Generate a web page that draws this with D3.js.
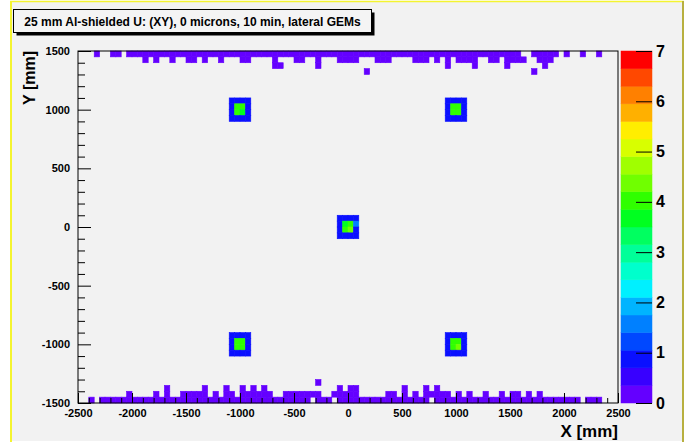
<!DOCTYPE html>
<html>
<head>
<meta charset="utf-8">
<script src="https://cdn.jsdelivr.net/npm/d3@7"></script>
<style>
  html, body { margin: 0; padding: 0; background: #ffffff; }
  text { font-family: "Liberation Sans", Arial, Helvetica, sans-serif; font-weight: bold; fill: #000; }
</style>
</head>
<body>
<svg id="chart" width="686" height="443"></svg>
<script>
// ---- histogram contents (bin low edges in mm, 50 mm bins) ----
const binWidth = 50;

// hits along the upper edge of the detector plane, one array per y-bin row
const upperRow1450 = [-2350, -2200, -2150,
  -2050, -2000, -1950, -1900, -1850, -1800, -1750, -1700, -1650, -1600,
  -1550, -1500, -1450, -1400, -1350, -1300, -1250, -1200, -1150, -1100,
  -1050, -1000, -950, -900, -850, -800, -750, -700, -650, -600,
  -550, -500, -450, -400, -350, -300, -250, -200, -150, -100,
  -50, 0, 50, 100, 150, 200, 250, 300, 350, 400,
  450, 500, 550, 600, 650, 700, 750, 800, 850, 900,
  950, 1000, 1050, 1100, 1150, 1200, 1250, 1300, 1350, 1400,
  1450, 1500, 1550,
  1700, 1750, 1800, 1850, 1900,
  2000, 2150, 2300];
const upperRow1400 = [-1900, -1800, -1650, -1500, -1450, -1350, -1200, -1000, -950,
  -700, -500, -450, -300, -100, -50, 0, 50, 250, 300, 350, 600, 650, 700, 800, 900,
  1000, 1050, 1100, 1150, 1300, 1350, 1450, 1500, 1550, 1600, 1750, 1800, 1850];
const upperRow1350 = [-700, -650, -300, 900, 1150, 1450, 1800];
const upperRow1300 = [150, 1700];

// hits along the lower edge
const lowerRowM1500 = [-2400,
  -2300, -2250, -2200, -2150, -2100, -2050, -2000, -1950, -1900, -1850,
  -1800, -1750, -1700, -1650, -1600, -1550, -1500, -1450, -1400, -1350,
  -1300, -1250, -1200, -1150, -1100, -1050, -1000, -950, -900, -850,
  -800, -750, -700, -650, -600, -550, -500, -450, -400,
  -300, -250, -200,
  -100, -50, 0, 50, 100, 150, 200, 250, 300, 350, 400, 450, 500, 550, 600, 650, 700,
  800, 850, 900, 950, 1000, 1050, 1100, 1150, 1200, 1250, 1300, 1350, 1400,
  1450, 1500, 1550, 1600, 1650, 1700, 1750, 1800, 1850, 1900, 1950, 2000, 2050, 2100,
  2200, 2250, 2300];
const lowerRowM1450 = [-2050, -1800, -1700, -1550, -1500, -1450, -1400, -1350, -1250,
  -1150, -1100, -1000, -950, -900, -850, -800, -750, -600, -550, -500, -450, -400,
  -350, -300, -150, -100, -50, 0, 50, 350, 400, 500, 600, 700, 750, 800, 850, 900,
  1000, 1100, 1250, 1400, 1500, 1550, 1650, 1750];
const lowerRowM1400 = [-1700, -1350, -1150, -1000, -900, -800, -100, 0, 50, 500, 700, 800];
const lowerRowM1350 = [-300];
const edgeHitWeight = 0.3;

// the five source spots: centres and 4x4 bin contents (rows top to bottom)
const spotCentreX = [-1000, 1000, 0, -1000, 1000];
const spotCentreY = [1000, 1000, 0, -1000, -1000];
const spotCounts = [
  [[0.9, 0.9, 0.9, 0.9], [0.9, 4.0, 3.9, 0.9], [0.9, 4.0, 3.8, 0.9], [0.9, 0.9, 0.9, 0.9]],
  [[0.9, 0.9, 0.9, 0.9], [0.9, 3.9, 4.0, 0.9], [0.9, 3.9, 4.1, 0.9], [0.9, 0.9, 0.9, 0.9]],
  [[0.9, 0.9, 0.9, 0.9], [0.8, 3.7, 3.9, 1.4], [0.8, 3.9, 4.4, 0.9], [0.8, 0.9, 0.9, 0.9]],
  [[0.9, 0.9, 0.9, 0.9], [0.9, 4.0, 3.9, 0.9], [0.9, 3.9, 4.0, 0.9], [0.9, 0.9, 0.9, 0.9]],
  [[0.9, 0.9, 0.9, 0.9], [0.9, 3.9, 4.0, 0.9], [0.9, 4.0, 4.2, 0.9], [0.9, 0.9, 0.9, 0.9]]
];

// axes and colour scale
const xTicks = [-2500, -2000, -1500, -1000, -500, 0, 500, 1000, 1500, 2000, 2500];
const yTicks = [-1500, -1000, -500, 0, 500, 1000, 1500];
const zTicks = [0, 1, 2, 3, 4, 5, 6, 7];
const zMax = 7;
const paletteColors = ["#6400ff", "#3800ff", "#0a10ff", "#0048ff", "#0080ff", "#00b4ff",
  "#00f0ff", "#00ffcc", "#00ff99", "#00ff60", "#00ff20", "#30ff00", "#70ff00", "#a0ff00",
  "#d8ff00", "#ffee00", "#ffb000", "#ff8000", "#ff4800", "#ff0000"];

const titleText = "25 mm Al-shielded U: (XY), 0 microns, 10 min, lateral GEMs";

// ---- assemble the bin list ----
const cells = [];
[[upperRow1450, 1450], [upperRow1400, 1400], [upperRow1350, 1350], [upperRow1300, 1300],
 [lowerRowM1500, -1500], [lowerRowM1450, -1450], [lowerRowM1400, -1400], [lowerRowM1350, -1350]]
  .forEach(([xs, y0]) => xs.forEach(x0 => cells.push({ x0, y0, v: edgeHitWeight })));
spotCounts.forEach((grid, s) => {
  grid.forEach((row, r) => row.forEach((v, c) => {
    cells.push({
      x0: spotCentreX[s] - 2 * binWidth + c * binWidth,
      y0: spotCentreY[s] + (1 - r) * binWidth,
      v
    });
  }));
});

// ---- drawing ----
const svg = d3.select("#chart");
const frame = { left: 78, right: 618, top: 51, bottom: 403 };
const x = d3.scaleLinear().domain([-2500, 2500]).range([frame.left, frame.right]);
const y = d3.scaleLinear().domain([-1500, 1500]).range([frame.bottom, frame.top]);
const colour = d3.scaleQuantize().domain([0, zMax]).range(paletteColors);
const plainInt = d => String(d);   // ASCII hyphen for negatives

// canvas
svg.append("rect").attr("x", 11).attr("y", 2).attr("width", 672).attr("height", 439).attr("fill", "#f2f2f2");
svg.append("line").attr("x1", 11).attr("x2", 11).attr("y1", 1).attr("y2", 442).attr("stroke", "#f4f430").attr("stroke-width", 2);
svg.append("line").attr("x1", 10).attr("x2", 684).attr("y1", 1.5).attr("y2", 1.5).attr("stroke", "#f4f430").attr("stroke-width", 1.5);
svg.append("line").attr("x1", 683).attr("x2", 683).attr("y1", 1).attr("y2", 442).attr("stroke", "#b8b040").attr("stroke-width", 2);

// histogram cells
svg.append("g").selectAll("rect").data(cells).join("rect")
  .attr("x", d => x(d.x0))
  .attr("y", d => y(d.y0 + binWidth))
  .attr("width", d => x(d.x0 + binWidth) - x(d.x0))
  .attr("height", d => y(d.y0) - y(d.y0 + binWidth))
  .attr("fill", d => colour(d.v))
  .attr("stroke", d => colour(d.v))
  .attr("stroke-width", 0.6);

// frame
svg.append("rect")
  .attr("x", frame.left).attr("y", frame.top)
  .attr("width", frame.right - frame.left).attr("height", frame.bottom - frame.top)
  .attr("fill", "none").attr("stroke", "#000").attr("stroke-width", 1);

// x axis: major ticks with labels, minor ticks every 100 mm, all pointing inward
const xMinor = d3.range(-2500, 2501, 100).filter(v => !xTicks.includes(v));
const xAxis = svg.append("g").attr("transform", `translate(0,${frame.bottom})`)
  .call(d3.axisBottom(x).tickValues(xTicks).tickSizeInner(-10).tickSizeOuter(0).tickPadding(6)
    .tickFormat(plainInt));
xAxis.select(".domain").remove();
xAxis.selectAll("text").style("font-size", "11px");
const xAxisMinor = svg.append("g").attr("transform", `translate(0,${frame.bottom})`)
  .call(d3.axisBottom(x).tickValues(xMinor).tickSizeInner(-5).tickSizeOuter(0).tickFormat(""));
xAxisMinor.select(".domain").remove();

// y axis
const yMinor = d3.range(-1500, 1501, 100).filter(v => !yTicks.includes(v));
const yAxis = svg.append("g").attr("transform", `translate(${frame.left},0)`)
  .call(d3.axisLeft(y).tickValues(yTicks).tickSizeInner(-13).tickSizeOuter(0).tickPadding(8)
    .tickFormat(plainInt));
yAxis.select(".domain").remove();
yAxis.selectAll("text").style("font-size", "11px");
const yAxisMinor = svg.append("g").attr("transform", `translate(${frame.left},0)`)
  .call(d3.axisLeft(y).tickValues(yMinor).tickSizeInner(-7).tickSizeOuter(0).tickFormat(""));
yAxisMinor.select(".domain").remove();

svg.selectAll(".tick line").attr("stroke", "#000");

// axis titles
svg.append("text").attr("x", frame.right).attr("y", 437).attr("text-anchor", "end")
  .style("font-size", "17px").text("X [mm]");
svg.append("text").attr("transform", `translate(35,${frame.top}) rotate(-90)`)
  .attr("text-anchor", "end").style("font-size", "16px").text("Y [mm]");

// colour bar
const bar = { left: 621, right: 652 };
const z = d3.scaleLinear().domain([0, zMax]).range([frame.bottom, frame.top]);
svg.append("g").selectAll("rect").data(paletteColors).join("rect")
  .attr("x", bar.left)
  .attr("y", c => z(colour.invertExtent(c)[1]))
  .attr("width", bar.right - bar.left)
  .attr("height", c => z(colour.invertExtent(c)[0]) - z(colour.invertExtent(c)[1]))
  .attr("fill", c => c)
  .attr("stroke", c => c).attr("stroke-width", 0.5);
const zAxis = svg.append("g").attr("transform", `translate(${bar.right},0)`)
  .call(d3.axisRight(z).tickValues(zTicks).tickSizeInner(-16).tickSizeOuter(0).tickPadding(4)
    .tickFormat(plainInt));
zAxis.select(".domain").remove();
zAxis.selectAll("text").style("font-size", "16px");
zAxis.selectAll(".tick line").attr("stroke", "#000");

// title box with drop shadow
const tb = { x: 13.5, y: 9.5, w: 358, h: 23 };
svg.append("rect").attr("x", tb.x + 3).attr("y", tb.y + 3).attr("width", tb.w).attr("height", tb.h).attr("fill", "#000");
svg.append("rect").attr("x", tb.x).attr("y", tb.y).attr("width", tb.w).attr("height", tb.h)
  .attr("fill", "#f4f4f4").attr("stroke", "#000").attr("stroke-width", 1);
svg.append("text").attr("x", tb.x + tb.w / 2).attr("y", tb.y + 16).attr("text-anchor", "middle")
  .style("font-size", "12px").text(titleText);
</script>
</body>
</html>
